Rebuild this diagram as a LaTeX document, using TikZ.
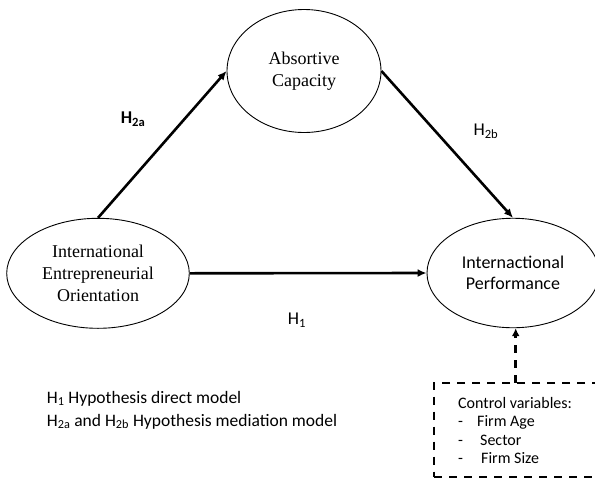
\documentclass[tikz,border=0pt]{standalone}
\usepackage{fontspec}
\setmainfont{Liberation Serif}
\newfontfamily\calibri{Carlito}
\usetikzlibrary{arrows.meta,shapes.geometric}

\tikzset{
  construct/.style={ellipse, draw, line width=0.9pt, inner sep=0pt, align=center,
    font=\fontsize{18}{21.7}\selectfont},
  path arrow/.style={line width=2.6pt, -{Latex[length=9pt,width=8pt]}},
  ctl arrow/.style={line width=2.6pt, dash pattern=on 8pt off 7pt, -{Latex[length=8pt,width=8pt]}},
  hyp/.style={inner sep=0pt, font=\calibri\fontsize{18}{21}\selectfont},
  ctlbox/.style={draw, line width=2.4pt, dash pattern=on 8pt off 7pt, inner sep=0pt},
  note/.style={inner sep=0pt, align=left, anchor=west}
}

\begin{document}
\begin{tikzpicture}[x=1pt,y=-1pt]
\useasboundingbox (0,0) rectangle (595,483);
\clip (0,0) rectangle (595,483);

% constructs
\node[construct, minimum width=154, minimum height=123] (abs) at (304,71)
  {Absortive\\Capacity};
\node[construct, minimum width=182.6, minimum height=110] (ieo) at (98,273.3)
  {International\\Entrepreneurial\\Orientation};
\node[construct, minimum width=172, minimum height=109.5,
      font=\calibri\fontsize{18}{21}\selectfont] (ip) at (513,273)
  {Internactional\\Performance};

% hypothesised paths
\draw[path arrow] (ieo.north) -- (abs.west);
\draw[path arrow] (abs.east) -- (ip.north);
\draw[path arrow] (ieo.east) -- (ip.west);

% path labels
\node[hyp, font=\calibri\bfseries\fontsize{18}{21}\selectfont] (h2a) at (133,119) {H\textsubscript{2a}};
\node[hyp] (h2b) at (486,131) {H\textsubscript{2b}};
\node[hyp] (h1) at (297,320) {H\textsubscript{1}};

% control variables box
\node[ctlbox, minimum width=186, minimum height=94] (ctl) at (527,429.7) {};
\coordinate (ctltop) at (515.7,382.7);
\draw[ctl arrow] (ctltop) -- (ctltop |- ip.south);
\node[note, anchor=north west, font=\calibri\fontsize{16}{18.5}\selectfont] (ctltext) at (458,397)
  {Control variables:\\
   \makebox[19pt][l]{-}Firm Age\\
   \makebox[22pt][l]{-}Sector\\
   \makebox[23pt][l]{-}Firm Size};

% legend
\node[note, font=\calibri\fontsize{17.5}{23}\selectfont] (legend) at (46.7,410)
  {H\textsubscript{1} Hypothesis direct model\\
   H\textsubscript{2a} and H\textsubscript{2b} Hypothesis mediation model};
\end{tikzpicture}
\end{document}
